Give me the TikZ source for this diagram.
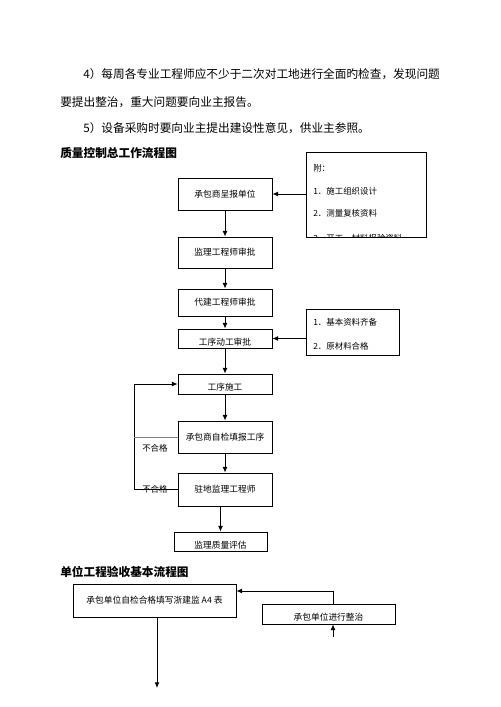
\documentclass[tikz,border=0pt]{standalone}
\usepackage{fontspec}
\setmainfont{Noto Sans CJK SC}
\usetikzlibrary{arrows.meta}
\tikzset{
    box/.style={draw=black, line width=0.6pt, inner sep=1pt, font=\fontsize{6.2pt}{7pt}\selectfont},
    lowbox/.style={box, text height=9.5pt, text depth=0pt},
    listtext/.style={anchor=west, inner sep=0pt, font=\fontsize{6pt}{7pt}\selectfont},
    bodytext/.style={anchor=west, inner sep=0pt, font=\fontsize{8.3pt}{10pt}\selectfont},
    flow/.style={-{Latex[length=4pt,width=3.4pt]}, line width=0.6pt},
}
\begin{document}
\begin{tikzpicture}[x=0.025cm, y=-0.025cm]
        \useasboundingbox[fill=white] (0, 0) rectangle (500, 707);
        % text above the charts
        \node[bodytext] (line_a) at (83, 74) {4）每周各专业工程师应不少于二次对工地进行全面旳检查，发现问题};
        \node[bodytext] (line_b) at (60, 102) {要提出整治，重大问题要向业主报告。};
        \node[bodytext] (line_c) at (83, 128) {5）设备采购时要向业主提出建设性意见，供业主参照。};
        \node[bodytext, font=\fontsize{8.3pt}{10pt}\selectfont\bfseries] (head_a) at (60, 153) {质量控制总工作流程图};
        % first chart
        \node[box, minimum width=94*0.025cm, minimum height=32*0.025cm] (bao_box) at (225, 194) {承包商呈报单位};
        \node[box, minimum width=94*0.025cm, minimum height=31*0.025cm] (jianli_box) at (225, 252.5) {监理工程师审批};
        \node[box, minimum width=94*0.025cm, minimum height=27*0.025cm] (daijian_box) at (225, 302.5) {代建工程师审批};
        \node[lowbox, minimum width=94*0.025cm, minimum height=19*0.025cm] (dong_box) at (225, 338.5) {工序动工审批};
        \node[lowbox, minimum width=94*0.025cm, minimum height=20*0.025cm] (shi_box) at (225, 384) {工序施工};
        \node[box, minimum width=94*0.025cm, minimum height=32*0.025cm] (zijian_box) at (225, 437) {承包商自检填报工序};
        \node[box, minimum width=94*0.025cm, minimum height=33*0.025cm] (zhudi_box) at (225, 489.5) {驻地监理工程师};
        \node[lowbox, minimum width=93*0.025cm, minimum height=19*0.025cm] (ping_box) at (220.5, 541.5) {监理质量评估};
        % side notes
        \node[draw=black, line width=0.6pt, minimum width=120*0.025cm, minimum height=85*0.025cm] (fu_box) at (366, 194.5) {};
        \begin{scope}
            \clip (fu_box.south west) rectangle (fu_box.north east);
            \node[listtext] (fu_t) at (313, 168) {附：};
            \node[listtext] (fu_1) at (313, 191) {1．施工组织设计};
            \node[listtext] (fu_2) at (313, 213) {2．测量复核资料};
            \node[listtext] (fu_3) at (313, 238.5) {3．开工、材料报验资料};
        \end{scope}
        \node[draw=black, line width=0.6pt, minimum width=93*0.025cm, minimum height=46*0.025cm] (zl_box) at (352.5, 332) {};
        \node[listtext] (zl_1) at (313, 322) {1．基本资料齐备};
        \node[listtext] (zl_2) at (313, 346) {2．原材料合格};
        \coordinate (loop_top) at (134, 384);
        \coordinate (loop_mid) at (134, 437);
        \coordinate (loop_bot) at (134, 489.5);
        \draw[flow] (fu_box.west |- bao_box) -- (bao_box.east);
        \draw[flow] (zl_box.west |- dong_box) -- (dong_box.east);
        \draw[flow] (bao_box) -- (jianli_box);
        \draw[flow] (jianli_box) -- (daijian_box);
        \draw[flow] (daijian_box) -- (dong_box);
        \draw[flow] (dong_box) -- (shi_box);
        \draw[flow] (shi_box) -- (zijian_box);
        \draw[flow] (zijian_box) -- (zhudi_box);
        \draw[flow] (zhudi_box.south -| ping_box) -- (ping_box);
        \draw[flow] (zhudi_box.west) -- (loop_bot) -- (loop_top) -- (shi_box.west);
        \draw[gray, line width=0.5pt] (zijian_box.west) -- (loop_mid);
        \node[listtext] (buhege_a) at (142, 448) {不合格};
        \node[listtext] (buhege_b) at (142, 489) {不合格};
        % second chart
        \node[bodytext, font=\fontsize{8.3pt}{10pt}\selectfont\bfseries] (head_b) at (60, 572) {单位工程验收基本流程图};
        \node[box, minimum width=163*0.025cm, minimum height=33*0.025cm] (a4_box) at (154.5, 600.5) {承包单位自检合格填写浙建监 A4 表};
        \node[lowbox, minimum width=133*0.025cm, minimum height=20*0.025cm] (zheng_box) at (328.5, 614) {承包单位进行整治};
        \coordinate (zheng_in) at (333, 637);
        \coordinate (a4_out) at (157, 688);
        \draw[flow] (zheng_box.north -| zheng_in) |- (a4_box.east |- 0, 591);
        \draw[flow] (zheng_in) -- (zheng_box.south -| zheng_in);
        \draw[flow] (a4_box.south -| a4_out) -- (a4_out);
    \end{tikzpicture}
\end{document}
